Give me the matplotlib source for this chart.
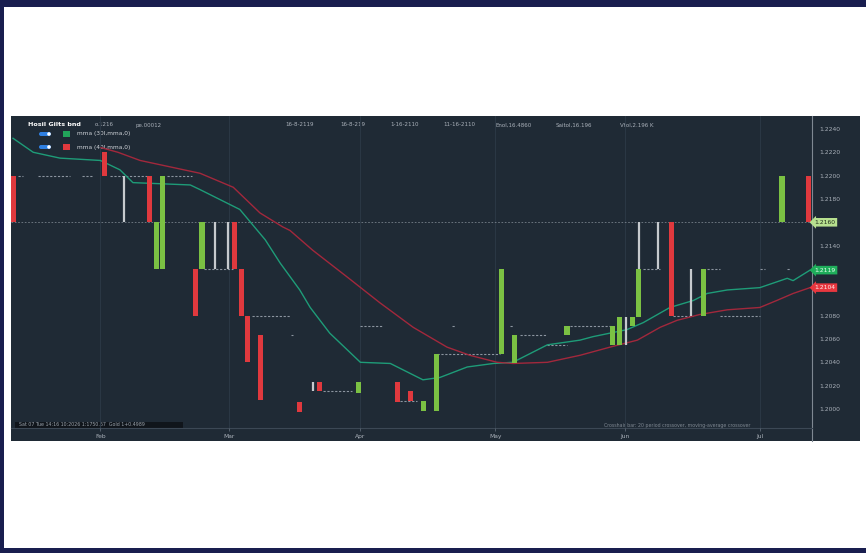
import matplotlib
matplotlib.use("Agg")
import matplotlib.pyplot as plt
from matplotlib.patches import Rectangle, FancyBboxPatch, Circle

# ---- data (bar index, prices) ----
body_idx   = [0, 14, 21, 22, 23, 28, 29, 34, 35, 36, 38, 44, 47, 53, 59, 61, 63, 65,
              75, 77, 85, 92, 93, 95, 96, 101, 106, 118, 122]
body_open  = [1.2200, 1.2220, 1.2200, 1.2120, 1.2120, 1.2120, 1.2120, 1.2160, 1.2120, 1.2080,
              1.2063, 1.2006, 1.2023, 1.2014, 1.2023, 1.2015, 1.1998, 1.1998,
              1.2047, 1.2039, 1.2063, 1.2055, 1.2055, 1.2071, 1.2079, 1.2160, 1.2080, 1.2160, 1.2200]
body_close = [1.2160, 1.2200, 1.2160, 1.2160, 1.2200, 1.2080, 1.2160, 1.2120, 1.2080, 1.2040,
              1.2008, 1.1997, 1.2015, 1.2023, 1.2006, 1.2007, 1.2007, 1.2047,
              1.2120, 1.2063, 1.2071, 1.2071, 1.2079, 1.2079, 1.2120, 1.2080, 1.2120, 1.2200, 1.2160]

# bars drawn only as a thin range (open == close)
wick_idx  = [17, 31, 33, 46, 94, 96, 99, 104]
wick_low  = [1.2160, 1.2120, 1.2120, 1.2015, 1.2055, 1.2120, 1.2120, 1.2080]
wick_high = [1.2200, 1.2160, 1.2160, 1.2023, 1.2079, 1.2160, 1.2160, 1.2120]

# flat bars, shown as short dashes: (first index, last index, price)
flat_start = [0.8, 3.8, 10.6, 14.9, 23.6, 29.3, 36.7, 42.6, 47.6, 53.3, 59.4, 65.1,
              67.4, 76.3, 77.8, 82.0, 85.5, 96.7, 101.3, 106.5, 108.5, 114.6, 118.8]
flat_end   = [1.5, 8.7, 12.3, 20.6, 27.5, 33.8, 42.5, 43.0, 52.0, 56.8, 62.0, 74.7,
              67.8, 76.7, 82.0, 85.0, 92.0, 99.3, 104.4, 108.5, 114.6, 115.4, 119.2]
flat_price = [1.2200, 1.2200, 1.2200, 1.2200, 1.2200, 1.2120, 1.2080, 1.2063, 1.2015, 1.2071,
              1.2007, 1.2047, 1.2071, 1.2071, 1.2063, 1.2055, 1.2071, 1.2120, 1.2080, 1.2120,
              1.2080, 1.2120, 1.2120]

# moving averages
ma30_idx = [0, 3.1, 7.2, 13.4, 16.4, 18.4, 27.2, 28.7, 34.8, 38.7, 41, 44, 45.6, 48.6, 53.3,
            57.9, 62.9, 65.5, 69.7, 73.7, 76.7, 82, 87, 89, 94.2, 96.7, 100.8, 104.4, 106.5,
            109.6, 114.6, 118.8, 119.7, 122.3]
ma30_val = [1.2232, 1.2220, 1.2215, 1.2213, 1.2205, 1.2194, 1.2192, 1.2188, 1.2171, 1.2145,
            1.2125, 1.2102, 1.2087, 1.2065, 1.2040, 1.2039, 1.2025, 1.2027, 1.2036, 1.2039,
            1.2040, 1.2055, 1.2059, 1.2062, 1.2068, 1.2074, 1.2087, 1.2093, 1.2099, 1.2102,
            1.2104, 1.2112, 1.2110, 1.2119]
ma40_idx = [13.5, 16.1, 19.5, 28.7, 33.8, 37.9, 41.4, 42.5, 46, 51.3, 56.3, 61.4, 66.6, 70.1,
            74.3, 76.7, 82, 87, 91.6, 95.8, 99.3, 101.9, 105.4, 109.6, 114.6, 117.2, 119.7, 122.3]
ma40_val = [1.2224, 1.2220, 1.2213, 1.2202, 1.2190, 1.2168, 1.2156, 1.2153, 1.2136, 1.2113,
            1.2091, 1.2070, 1.2053, 1.2046, 1.2040, 1.2039, 1.2040, 1.2046, 1.2053, 1.2059,
            1.2070, 1.2076, 1.2081, 1.2085, 1.2087, 1.2093, 1.2099, 1.2104]

price_ticks = [1.2240, 1.2220, 1.2200, 1.2180, 1.2160, 1.2140, 1.2120, 1.2100,
               1.2080, 1.2060, 1.2040, 1.2020, 1.2000]
month_idx = [13.4, 33.1, 53.3, 74.0, 93.9, 114.6]
month_labels = ["Feb", "Mar", "Apr", "May", "Jun", "Jul"]

last_price = 1.2160

# ---- colours ----
NAVY = "#191e4f"
PANEL = "#1f2a35"
UP = "#7bc143"
DOWN = "#e0393e"
WICK = "#c6cace"
FLAT = "#8c95a0"
MA30 = "#1e9c78"
MA40 = "#a2283c"
TXT = "#aab1ba"

W, H = 866, 553
fig = plt.figure(figsize=(W / 100, H / 100), dpi=100)
fig.patch.set_facecolor("white")

# background layer in pixel coordinates
bg = fig.add_axes([0, 0, 1, 1], zorder=0)
bg.set_xlim(0, W)
bg.set_ylim(H, 0)
bg.axis("off")

# navy frame (top, left, bottom)
bg.add_patch(Rectangle((0, 0), W, 7, color=NAVY, lw=0))
bg.add_patch(Rectangle((0, 0), 4, H, color=NAVY, lw=0))
bg.add_patch(Rectangle((0, 548), W, 5, color=NAVY, lw=0))

# dark chart panel
bg.add_patch(Rectangle((11, 116), 849, 325, color=PANEL, lw=0))
bg.plot([812, 812], [116, 441], color="#7f8892", lw=0.8)
bg.plot([11, 812], [428, 428], color="#3c4855", lw=0.8)

# header line
bg.text(28, 125, "Hosil Gilts bnd", color="white", fontsize=4.6, fontweight="bold", va="center")
bg.text(95, 125, "o.1216", color=TXT, fontsize=4, va="center")
bg.text(135, 125, "pe.00012", color=TXT, fontsize=4, va="center")
for x, s in zip([285, 340, 390, 443, 495, 556, 620],
                ["16-8-2119", "16-8-219", "1-16-2110", "11-16-2110",
                 "Enol,16.4860", "Saitol,16.196", "Vtol,2.196 K"]):
    bg.text(x, 125, s, color=TXT, fontsize=4, va="center")

# legend rows
for y, col, lab in [(134, "#22a45a", "mma (30l,mma,0)"), (147, DOWN, "mma (40l,mma,0)")]:
    bg.add_patch(FancyBboxPatch((39, y - 2), 12, 4, boxstyle="round,pad=0,rounding_size=2",
                                fc="#2f7fe0", ec="none"))
    bg.add_patch(Circle((49, y), 1.8, fc="white", ec="none"))
    bg.add_patch(Rectangle((63, y - 3), 7, 6, fc=col, ec="none"))
    bg.text(77, y, lab, color="#d0d4d9", fontsize=4.2, va="center")

# footer texts
bg.add_patch(Rectangle((15, 422), 168, 6, fc="#10151b", ec="none"))
bg.text(19, 425, "Sat 07 Tue 14:16 10:2026 1:1750.67  Gold 1+0.4989",
        color="#9aa2ab", fontsize=3.4, va="center")
bg.text(604, 425, "Crosshair bar: 20 period crossover, moving-average crossover",
        color="#7e8791", fontsize=3.4, va="center")

# ---- main price axes ----
ax = fig.add_axes([11 / W, (H - 428) / H, 801 / W, 312 / H], zorder=1)
ax.set_facecolor("none")
ax.set_xlim(-0.31, 122.6)
ax.set_ylim(1.19837, 1.22511)
for s in ax.spines.values():
    s.set_visible(False)

# month grid
for m in month_idx:
    ax.axvline(m, color="#2a3744", lw=0.8, zorder=0)

# last price line
ax.axhline(last_price, color="#8d96a0", lw=0.6, ls=(0, (2, 2)), alpha=0.8, zorder=1)

# flat bars
ax.hlines(flat_price, flat_start, flat_end, colors=FLAT, lw=0.8, linestyles=(0, (2, 1.5)), zorder=2)

# moving averages
ax.plot(ma30_idx, ma30_val, color=MA30, lw=1.0, zorder=3)
ax.plot(ma40_idx, ma40_val, color=MA40, lw=1.0, zorder=3)

# thin range bars
ax.vlines(wick_idx, wick_low, wick_high, colors=WICK, lw=1.6, zorder=4)

# candle bodies
heights = [c - o for o, c in zip(body_open, body_close)]
colors = [UP if c >= o else DOWN for o, c in zip(body_open, body_close)]
ax.bar(body_idx, heights, bottom=body_open, width=0.78, color=colors, lw=0, zorder=5)

# price scale on the right
ax.yaxis.tick_right()
ax.set_yticks(price_ticks)
covered = {1.2160, 1.2120, 1.2100}
ax.set_yticklabels(["" if p in covered else f"{p:.4f}" for p in price_ticks])
ax.tick_params(axis="y", length=0, pad=5, labelsize=4.3, labelcolor=TXT)

# time scale
ax.set_xticks(month_idx)
ax.set_xticklabels(month_labels)
ax.tick_params(axis="x", length=2, width=0.6, color="#5d6874", pad=2.5,
               labelsize=4.3, labelcolor=TXT)

# price tags on the scale
ytr = ax.get_yaxis_transform()
for val, fc, tc in [(last_price, "#b7e08f", "#1c2a18"),
                    (ma30_val[-1], "#1fae5b", "#e9fff0"),
                    (ma40_val[-1], "#e8373f", "#fff0f0")]:
    ax.text(1.003, val, f"{val:.4f}", transform=ytr, fontsize=4.3, color=tc,
            ha="left", va="center", clip_on=False, zorder=10,
            bbox=dict(boxstyle="larrow,pad=0.3", fc=fc, ec="none"))

fig.savefig("out.png", dpi=100)
